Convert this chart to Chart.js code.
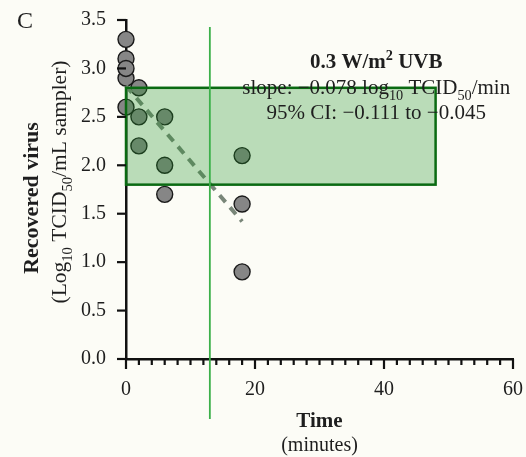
<!DOCTYPE html>
<html>
<head>
<meta charset="utf-8">
<script src="https://cdn.jsdelivr.net/npm/chart.js@4.4.1/dist/chart.umd.min.js"></script>
<style>
  html, body { margin: 0; padding: 0; background: #fcfcf6; }
  #wrap { width: 526px; height: 457px; position: relative; }
</style>
</head>
<body>
<div id="wrap"><canvas id="c" width="526" height="457"></canvas></div>
<script>
// ---- Data ----
const timeMin  = [0, 0, 0, 0, 0, 2, 2, 2, 6, 6, 6, 18, 18, 18];
const virusLog = [3.3, 3.1, 2.9, 3.0, 2.6, 2.8, 2.5, 2.2, 2.5, 2.0, 1.7, 2.1, 1.6, 0.9];
const fitTime  = [0, 18];
const fitLog   = [2.82, 1.42];
const boxTime  = [0, 48];
const boxLog   = [1.8, 2.8];
const halfLifeTime = [13];
const xTickLabels = [0, 20, 40, 60];
const yTickLabels = [0.0, 0.5, 1.0, 1.5, 2.0, 2.5, 3.0, 3.5];
const panelLetter = 'C';
const titleLines = [
  [{t: '0.3 W/m'}, {t: '2', sup: true}, {t: ' UVB'}],
  [{t: 'slope: \u22120.078 log'}, {t: '10', sub: true}, {t: ' TCID'}, {t: '50', sub: true}, {t: '/min'}],
  [{t: '95% CI: \u22120.111 to \u22120.045'}]
];
const yTitle1 = [{t: 'Recovered virus'}];
const yTitle2 = [{t: '(Log'}, {t: '10', sub: true}, {t: ' TCID'}, {t: '50', sub: true}, {t: '/mL sampler)'}];
const xTitle1 = 'Time';
const xTitle2 = '(minutes)';

const FONT = "'Liberation Serif', 'DejaVu Serif', serif";
const INK = '#1e1e1e';

function richWidth(ctx, segs, size, weight) {
  let w = 0;
  for (const s of segs) {
    const fs = (s.sub || s.sup) ? size * 0.68 : size;
    ctx.font = weight + ' ' + fs + 'px ' + FONT;
    w += ctx.measureText(s.t).width;
  }
  return w;
}
function drawRich(ctx, segs, cx, by, size, weight) {
  const total = richWidth(ctx, segs, size, weight);
  let x = cx - total / 2;
  ctx.textAlign = 'left';
  ctx.textBaseline = 'alphabetic';
  for (const s of segs) {
    const fs = (s.sub || s.sup) ? size * 0.68 : size;
    ctx.font = weight + ' ' + fs + 'px ' + FONT;
    let y = by;
    if (s.sub) y += size * 0.28;
    if (s.sup) y -= size * 0.38;
    ctx.fillText(s.t, x, y);
    x += ctx.measureText(s.t).width;
  }
}

const decor = {
  id: 'decor',
  afterDatasetsDraw(chart) {
    const ctx = chart.ctx;
    const xs = chart.scales.x, ys = chart.scales.y;
    const area = chart.chartArea;
    ctx.save();
    // green box
    const bx0 = xs.getPixelForValue(boxTime[0]), bx1 = xs.getPixelForValue(boxTime[1]);
    const by0 = ys.getPixelForValue(boxLog[1]), by1 = ys.getPixelForValue(boxLog[0]);
    ctx.fillStyle = 'rgba(34,145,40,0.30)';
    ctx.fillRect(bx0, by0, bx1 - bx0, by1 - by0);
    ctx.strokeStyle = '#0a6a12';
    ctx.lineWidth = 2.5;
    ctx.strokeRect(bx0, by0, bx1 - bx0, by1 - by0);
    // vertical green line
    const vx = xs.getPixelForValue(halfLifeTime[0]);
    ctx.strokeStyle = '#3cb04a';
    ctx.lineWidth = 1.8;
    ctx.beginPath();
    ctx.moveTo(vx, area.top + 7);
    ctx.lineTo(vx, area.bottom + 60);
    ctx.stroke();
    // axis ticks
    ctx.strokeStyle = '#111';
    ctx.lineWidth = 2.2;
    for (let v = 0; v <= 60; v += 2) {
      const px = xs.getPixelForValue(v);
      const len = (v % 20 === 0) ? 10 : 6;
      ctx.beginPath();
      ctx.moveTo(px, area.bottom);
      ctx.lineTo(px, area.bottom + len);
      ctx.stroke();
    }
    for (const v of yTickLabels) {
      const py = ys.getPixelForValue(v);
      ctx.beginPath();
      ctx.moveTo(area.left, py);
      ctx.lineTo(area.left - 9, py);
      ctx.stroke();
    }
    // texts
    ctx.fillStyle = INK;
    const tcx = xs.getPixelForValue(38.8);
    drawRich(ctx, titleLines[0], tcx, 68, 21, 'bold');
    drawRich(ctx, titleLines[1], tcx, 94, 21, 'normal');
    drawRich(ctx, titleLines[2], tcx, 119, 21, 'normal');
    // panel letter
    ctx.font = 'normal 24px ' + FONT;
    ctx.textAlign = 'left';
    ctx.textBaseline = 'alphabetic';
    ctx.fillText(panelLetter, 17, 28);
    // x title
    const xc = (area.left + area.right) / 2;
    drawRich(ctx, [{t: xTitle1}], xc, 427, 21, 'bold');
    drawRich(ctx, [{t: xTitle2}], xc, 451, 20, 'normal');
    // y title
    ctx.save();
    ctx.translate(38, 198);
    ctx.rotate(-Math.PI / 2);
    drawRich(ctx, yTitle1, 0, 0, 22, 'bold');
    ctx.restore();
    ctx.save();
    ctx.translate(66, 182);
    ctx.rotate(-Math.PI / 2);
    drawRich(ctx, yTitle2, 0, 0, 21.5, 'normal');
    ctx.restore();
    ctx.restore();
  }
};

const pts = timeMin.map((t, i) => ({x: t, y: virusLog[i]}));
const fit = fitTime.map((t, i) => ({x: t, y: fitLog[i]}));

Chart.defaults.font.family = FONT;
Chart.defaults.color = INK;

function fixPad(s) {
  s.paddingTop = 0; s.paddingBottom = 0; s.paddingLeft = 0; s.paddingRight = 0;
}

new Chart(document.getElementById('c'), {
  type: 'scatter',
  data: {
    datasets: [
      {
        label: 'samples',
        data: pts,
        backgroundColor: '#868686',
        borderColor: '#1a1a1a',
        borderWidth: 1.4,
        pointRadius: 8,
        clip: false,
        order: 2
      },
      {
        type: 'line',
        label: 'fit',
        data: fit,
        borderColor: '#798679',
        borderWidth: 4,
        borderDash: [9, 7],
        pointRadius: 0,
        fill: false,
        clip: false,
        order: 1
      }
    ]
  },
  options: {
    responsive: false,
    animation: false,
    events: [],
    layout: { padding: { left: 0, top: 20, right: 13, bottom: 0 } },
    plugins: { legend: { display: false }, tooltip: { enabled: false } },
    scales: {
      x: {
        type: 'linear', min: 0, max: 60,
        grid: { display: false, drawTicks: false },
        border: { display: true, color: '#111', width: 2.5 },
        ticks: {
          stepSize: 20, padding: 19,
          font: { size: 20 }, color: INK,
          callback: (v) => xTickLabels.includes(v) ? String(v) : ''
        },
        afterFit: (s) => { s.height = 98; fixPad(s); }
      },
      y: {
        type: 'linear', min: 0, max: 3.5,
        grid: { display: false, drawTicks: false },
        border: { display: true, color: '#111', width: 2.5 },
        ticks: {
          stepSize: 0.5, padding: 20,
          font: { size: 20 }, color: INK,
          callback: (v) => Number(v).toFixed(1)
        },
        afterFit: (s) => { s.width = 126; fixPad(s); }
      }
    }
  },
  plugins: [decor]
});
</script>
</body>
</html>
